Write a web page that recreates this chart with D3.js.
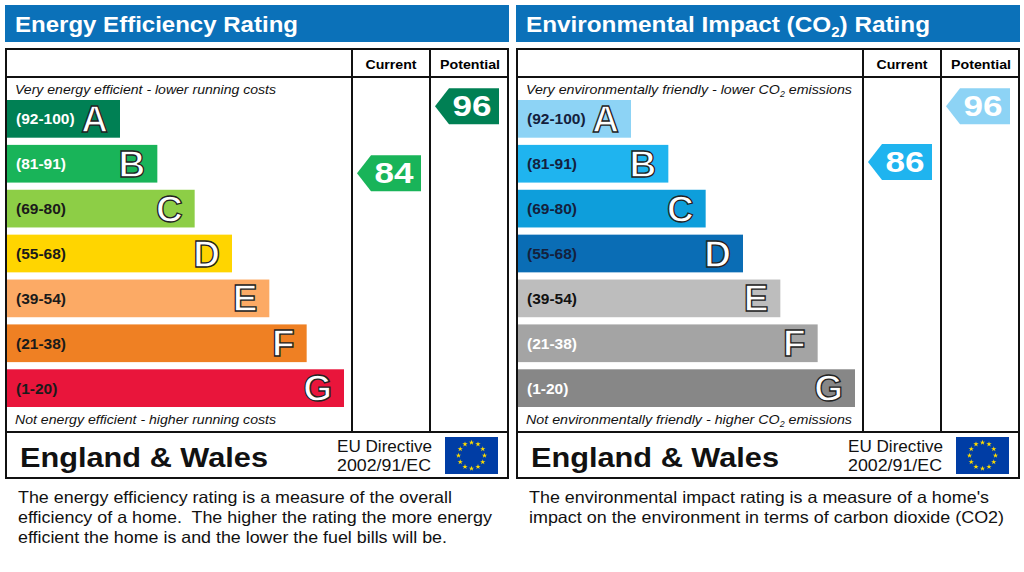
<!DOCTYPE html>
<html>
<head>
<meta charset="utf-8">
<script src="https://cdn.jsdelivr.net/npm/d3@7"></script>
<style>
  body { margin: 0; background: #fff; }
  svg { display: block; font-family: "Liberation Sans", Arial, sans-serif; }
</style>
</head>
<body>
<svg id="chart" width="1024" height="572"></svg>
<script>
// band data
const bandLetters = ["A", "B", "C", "D", "E", "F", "G"];
const bandRanges = ["(92-100)", "(81-91)", "(69-80)", "(55-68)", "(39-54)", "(21-38)", "(1-20)"];
const bandMins = [92, 81, 69, 55, 39, 21, 1];

const energyColors = ["#008054", "#19b459", "#8dce46", "#ffd500", "#fcaa65", "#ef8023", "#e9153b"];
const energyLabelColors = ["#fff", "#fff", "#1a1a1a", "#1a1a1a", "#1a1a1a", "#1a1a1a", "#1a1a1a"];
const envColors = ["#8dd3f5", "#1fb4ef", "#0e9edb", "#0a6db5", "#bdbdbd", "#a4a4a4", "#878787"];
const envLabelColors = ["#14213d", "#14213d", "#14213d", "#14213d", "#111", "#fff", "#fff"];

// ratings
const energyCurrent = 84, energyPotential = 96;
const envCurrent = 86, envPotential = 96;

const svg = d3.select("#chart");

// layout (panel local coords)
const W = 503;
const boxTop = 49, headRow = 77, footTop = 432, boxBottom = 478;
const colCur = 347, colPot = 425;

const y = d3.scaleBand().domain(bandLetters).range([100, 407]).paddingInner(0.16);
const barW = d3.scaleLinear().domain([0, 6]).range([113, 337]);
// arrow centre for a rating value
const ratingY = d3.scaleLinear().domain([100, 81]).range([84, 190]);

// the reference text runs a little wider than Arial, so stretch to width
function fit(sel, w) {
  return sel.attr("textLength", w).attr("lengthAdjust", "spacingAndGlyphs");
}

function stars(g, cx, cy) {
  // EU flag: 12 yellow stars in a ring
  const r = 13;
  g.selectAll("path.star").data(d3.range(12)).enter().append("path")
    .attr("class", "star")
    .attr("d", d3.symbol(d3.symbolStar, 9))
    .attr("transform", i => {
      const a = i / 12 * 2 * Math.PI;
      return "translate(" + (cx + r * Math.sin(a)) + "," + (cy - r * Math.cos(a)) + ")";
    })
    .attr("fill", "#ffdd00");
}

function addCO2(t, pre, post, size) {
  t.append("tspan").text(pre + "CO");
  t.append("tspan").text("2").attr("font-size", size * 0.62).attr("dy", size * 0.2);
  t.append("tspan").text(post).attr("dy", -size * 0.2);
}

function drawPanel(ox, cfg) {
  const g = svg.append("g").attr("transform", "translate(" + ox + ",0)");

  // title bar
  g.append("rect").attr("x", 0).attr("y", 5).attr("width", W + 1).attr("height", 37).attr("fill", "#0b71b9");
  const title = g.append("text").attr("x", 10).attr("y", 32)
    .attr("fill", "#fff").attr("font-size", 22.5).attr("font-weight", "bold");
  cfg.title(title);
  fit(title, cfg.titleW);

  // frame
  g.append("rect").attr("x", 1).attr("y", boxTop).attr("width", W - 1).attr("height", boxBottom - boxTop)
    .attr("fill", "none").attr("stroke", "#111").attr("stroke-width", 2);
  g.append("line").attr("x1", 1).attr("x2", W).attr("y1", headRow).attr("y2", headRow).attr("stroke", "#111").attr("stroke-width", 2);
  g.append("line").attr("x1", 1).attr("x2", W).attr("y1", footTop).attr("y2", footTop).attr("stroke", "#111").attr("stroke-width", 2);
  [colCur, colPot].forEach(x => {
    g.append("line").attr("x1", x).attr("x2", x).attr("y1", boxTop).attr("y2", footTop).attr("stroke", "#111").attr("stroke-width", 2);
  });

  fit(g.append("text").attr("x", (colCur + colPot) / 2).attr("y", 69).attr("text-anchor", "middle")
    .attr("font-size", 13.5).attr("font-weight", "bold").text("Current"), 51);
  fit(g.append("text").attr("x", (colPot + W) / 2 + 1).attr("y", 69).attr("text-anchor", "middle")
    .attr("font-size", 13.5).attr("font-weight", "bold").text("Potential"), 60);

  const topT = g.append("text").attr("x", 10).attr("y", 94).attr("font-size", 13.5).attr("font-style", "italic").attr("fill", "#111");
  cfg.topText(topT);
  fit(topT, cfg.noteW);
  const botT = g.append("text").attr("x", 10).attr("y", 424).attr("font-size", 13.5).attr("font-style", "italic").attr("fill", "#111");
  cfg.bottomText(botT);
  fit(botT, cfg.noteW);

  // bands
  const bands = g.selectAll("g.band").data(bandLetters).enter().append("g").attr("class", "band");
  bands.append("rect")
    .attr("x", 2).attr("y", d => y(d))
    .attr("width", (d, i) => barW(i)).attr("height", y.bandwidth())
    .attr("fill", (d, i) => cfg.colors[i]);
  bands.append("text")
    .attr("x", 11).attr("y", d => y(d) + y.bandwidth() / 2 + 5.5)
    .attr("font-size", 15.5).attr("font-weight", "bold")
    .attr("fill", (d, i) => cfg.labelColors[i])
    .text((d, i) => bandRanges[i]);
  bands.append("text")
    .attr("x", (d, i) => barW(i) - 10).attr("y", d => y(d) + y.bandwidth() / 2 + 13)
    .attr("text-anchor", "end")
    .attr("font-size", 37).attr("font-weight", "bold")
    .attr("fill", "#fff").attr("stroke", "#222").attr("stroke-width", 1.3)
    .text(d => d);

  // rating arrows
  const arrows = [
    { v: cfg.current, right: colPot - 9 },
    { v: cfg.potential, right: W - 9 }
  ];
  arrows.forEach(a => {
    const band = bandMins.findIndex(m => a.v >= m);
    const cy = ratingY(a.v), h = 36, w = 64, tip = 14;
    const x0 = a.right - w;
    g.append("path")
      .attr("d", d3.line()([[x0, cy], [x0 + tip, cy - h / 2], [a.right, cy - h / 2], [a.right, cy + h / 2], [x0 + tip, cy + h / 2]]) + "Z")
      .attr("fill", cfg.colors[band]);
    fit(g.append("text").attr("x", x0 + tip + (w - tip) / 2 - 2).attr("y", cy + 10)
      .attr("text-anchor", "middle").attr("font-size", 29).attr("font-weight", "bold")
      .attr("fill", "#fff").text(a.v), 39);
  });

  // footer
  fit(g.append("text").attr("x", 15).attr("y", 467).attr("font-size", 28.5).attr("font-weight", "bold").attr("fill", "#111")
    .text("England & Wales"), 248);
  fit(g.append("text").attr("x", 332).attr("y", 452).attr("font-size", 17).attr("fill", "#111").text("EU Directive"), 95);
  fit(g.append("text").attr("x", 332).attr("y", 471).attr("font-size", 17).attr("fill", "#111").text("2002/91/EC"), 94);
  g.append("rect").attr("x", 440).attr("y", 437).attr("width", 53).attr("height", 37).attr("fill", "#003da5");
  stars(g, 466.5, 455.5);

  // description
  g.selectAll("text.desc").data(cfg.desc).enter().append("text")
    .attr("class", "desc").attr("x", 13).attr("y", (d, i) => 503 + i * 20)
    .attr("font-size", 16.5).attr("fill", "#111")
    .attr("xml:space", "preserve")
    .attr("textLength", (d, i) => cfg.descW[i]).attr("lengthAdjust", "spacingAndGlyphs")
    .text(d => d);
}

drawPanel(5, {
  title: t => t.text("Energy Efficiency Rating"),
  titleW: 283,
  topText: t => t.text("Very energy efficient - lower running costs"),
  bottomText: t => t.text("Not energy efficient - higher running costs"),
  noteW: 261,
  colors: energyColors,
  labelColors: energyLabelColors,
  current: energyCurrent,
  potential: energyPotential,
  desc: [
    "The energy efficiency rating is a measure of the overall",
    "efficiency of a home.  The higher the rating the more energy",
    "efficient the home is and the lower the fuel bills will be."
  ],
  descW: [434, 474, 429]
});

drawPanel(516, {
  title: t => addCO2(t, "Environmental Impact (", ") Rating", 22.5),
  titleW: 404,
  topText: t => addCO2(t, "Very environmentally friendly - lower ", " emissions", 13.5),
  bottomText: t => addCO2(t, "Not environmentally friendly - higher ", " emissions", 13.5),
  noteW: 326,
  colors: envColors,
  labelColors: envLabelColors,
  current: envCurrent,
  potential: envPotential,
  desc: [
    "The environmental impact rating is a measure of a home's",
    "impact on the environment in terms of carbon dioxide (CO2)"
  ],
  descW: [460, 475]
});
</script>
</body>
</html>
